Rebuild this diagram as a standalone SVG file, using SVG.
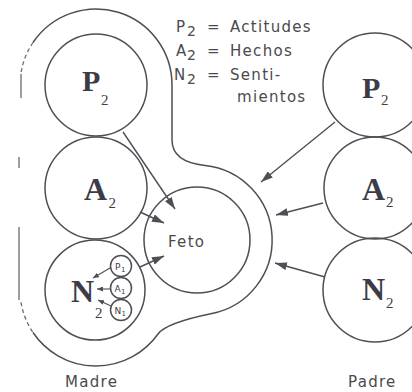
<svg xmlns="http://www.w3.org/2000/svg" width="412" height="392" viewBox="0 0 412 392">
<style>
.ln{fill:none;stroke:#4e4e56;stroke-width:1.5}
.faint{fill:none;stroke:#6a6a70;stroke-width:1.3}
.big{font-family:"Liberation Serif","DejaVu Serif",serif;font-weight:bold;font-size:32px;fill:#3c3c48}
.bigp{font-size:30px}
.sub{font-family:"Liberation Serif","DejaVu Serif",serif;font-size:15px;fill:#3c3c48}
.lab{font-family:"DejaVu Sans","Liberation Sans",sans-serif;font-size:15px;fill:#4a4a4e;letter-spacing:1.3px}
.lsub{font-family:"DejaVu Sans","Liberation Sans",sans-serif;font-size:14px;fill:#4a4a4e}
.sm{font-family:"DejaVu Sans","Liberation Sans",sans-serif;font-size:9px;fill:#3c3c48}
.smsub{font-family:"DejaVu Sans","Liberation Sans",sans-serif;font-size:7px;fill:#3c3c48}
.arr{fill:none;stroke:#4e4e56;stroke-width:1.4;marker-end:url(#ah)}
.arrs{fill:none;stroke:#4e4e56;stroke-width:1.1;marker-end:url(#ahs)}
</style>
<defs>
<marker id="ah" markerUnits="userSpaceOnUse" markerWidth="12" markerHeight="8" refX="12" refY="4" orient="auto"><path d="M0,0 L12,4 L0,8 z" fill="#4e4e56"/></marker>
<marker id="ahs" markerUnits="userSpaceOnUse" markerWidth="6" markerHeight="5" refX="6" refY="2.5" orient="auto"><path d="M0,0 L6,2.5 L0,5 z" fill="#4e4e56"/></marker>
</defs>
<rect width="412" height="392" fill="#ffffff"/>
<g id="enclosure">
<path class="ln" d="M33 42.5 A76 76 0 0 1 172 85 L172 140 Q172 162 205 165.4 A75 75 0 0 1 212 313.5 Q165.9 322.9 158 334 A76 76 0 0 1 33 332.5"/>
<path class="faint" stroke-dasharray="4 3" d="M33 42.5 A76 76 0 0 0 21 72.7"/>
<path class="faint" d="M21 74 L21 98 M19 157 L19 168 M19 227 L19 300"/>
<path class="faint" stroke-dasharray="4 3" d="M21 302.3 A76 76 0 0 0 33 332.5"/>
</g>
<g id="madre-P2">
<circle class="ln" cx="96" cy="85" r="51"/>
<text class="big bigp" x="82" y="91">P</text><text class="sub" x="101" y="105">2</text>
</g>
<g id="madre-A2">
<circle class="ln" cx="96" cy="188" r="51"/>
<text class="big" x="84" y="200">A</text><text class="sub" x="108.5" y="208">2</text>
</g>
<g id="madre-N2">
<circle class="ln" cx="95" cy="290" r="50"/>
<text class="big" x="71" y="302">N</text><text class="sub" x="95" y="318">2</text>
</g>
<g id="P1"><circle class="ln" cx="121" cy="266" r="10.5"/><text class="sm" x="115" y="270">P</text><text class="smsub" x="121" y="272">1</text></g>
<g id="A1"><circle class="ln" cx="121" cy="288" r="10.5"/><text class="sm" x="114.5" y="292">A</text><text class="smsub" x="121" y="294">1</text></g>
<g id="N1"><circle class="ln" cx="121" cy="310" r="10.5"/><text class="sm" x="114.5" y="314">N</text><text class="smsub" x="121.5" y="316">1</text></g>
<g id="feto">
<circle class="ln" cx="197" cy="240" r="53"/>
<text class="lab" x="168" y="247">Feto</text>
</g>
<g id="padre-P2">
<circle class="ln" cx="375" cy="85" r="52"/>
<text class="big bigp" x="362" y="98">P</text><text class="sub" x="381" y="105">2</text>
</g>
<g id="padre-A2">
<circle class="ln" cx="375" cy="188" r="51"/>
<text class="big" x="362" y="200">A</text><text class="sub" x="386" y="207">2</text>
</g>
<g id="padre-N2">
<circle class="ln" cx="375" cy="290" r="52"/>
<text class="big" x="362" y="300">N</text><text class="sub" x="386" y="308">2</text>
</g>
<g id="connectors">
<path class="arr" d="M123 132 L175 209"/>
<path class="arr" d="M140 212 L164 223"/>
<path class="arr" d="M140 267 L164 256"/>
<path class="arr" d="M335 122 L261 182"/>
<path class="arr" d="M323 203 L276 215"/>
<path class="arr" d="M325 277 L275 263"/>
<path class="arrs" d="M110 268 L93 278"/>
<path class="arrs" d="M110 289 L97 289"/>
<path class="arrs" d="M111 306 L98 300"/>
</g>
<g id="legend">
<text class="lab" x="176" y="32">P</text><text class="lsub" x="187" y="36">2</text><text class="lab" x="207" y="32">=</text><text class="lab" x="230" y="32">Actitudes</text>
<text class="lab" x="176" y="56">A</text><text class="lsub" x="187" y="60">2</text><text class="lab" x="207" y="56">=</text><text class="lab" x="230" y="56">Hechos</text>
<text class="lab" x="174" y="80">N</text><text class="lsub" x="187" y="84">2</text><text class="lab" x="207" y="80">=</text><text class="lab" x="230" y="80">Senti-</text>
<text class="lab" x="237" y="102">mientos</text>
</g>
<g id="labels">
<text class="lab" x="65" y="387">Madre</text>
<text class="lab" x="348" y="387">Padre</text>
</g>
</svg>
